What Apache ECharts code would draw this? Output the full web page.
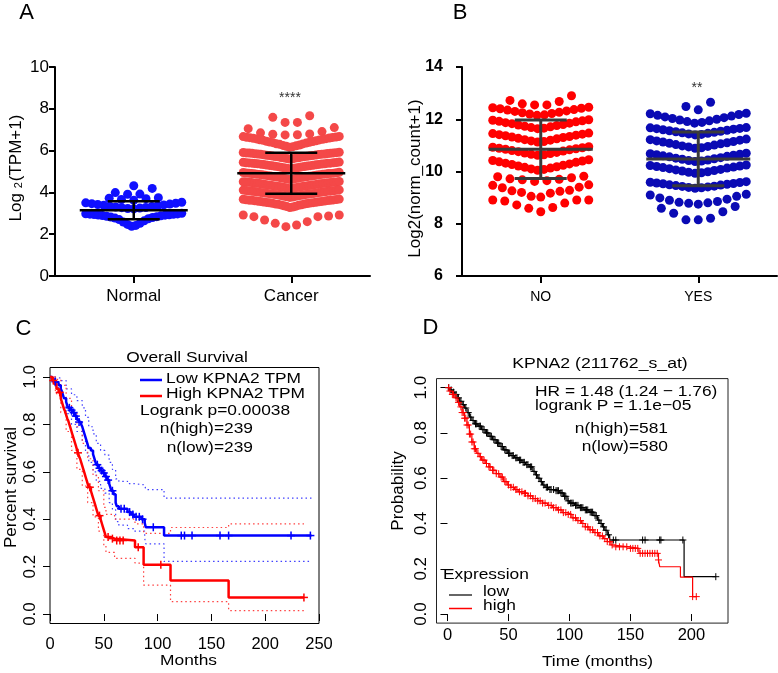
<!DOCTYPE html>
<html><head><meta charset="utf-8">
<script src="https://cdn.jsdelivr.net/npm/echarts@6/dist/echarts.min.js"></script>
<style>html,body{margin:0;padding:0;background:#fff}#c{width:778px;height:673px}</style>
</head><body><div id="c"></div>
<script>
// ---------- Panel A: Log2(TPM+1), rows of the dot plot ----------
const groupsA = ['Normal', 'Cancer'];
const normalRows = [
  [4.32],
  [3.91, 3.92, 3.99, 4.19],
  [3.62, 3.66, 3.70, 3.72, 3.75],
  [3.21, 3.23, 3.25, 3.27, 3.28, 3.30, 3.32, 3.34, 3.36, 3.38, 3.40, 3.42, 3.44, 3.46, 3.48, 3.50, 3.53],
  [2.38, 2.42, 2.47, 2.52, 2.58, 2.64, 2.70, 2.74, 2.77, 2.80, 2.82, 2.84, 2.86, 2.88, 2.89, 2.91, 2.92, 2.93, 2.94, 2.95, 2.96, 2.97, 2.98, 3.00]
];
const cancerRows = [
  [7.35, 7.35, 7.59, 7.67],
  [6.75, 6.76, 6.78, 6.80, 6.85, 6.91, 7.05, 7.10],
  [6.16, 6.19, 6.21, 6.23, 6.25, 6.27, 6.30, 6.32, 6.33, 6.36, 6.38, 6.40, 6.41, 6.43, 6.45, 6.47, 6.49, 6.51, 6.52, 6.54, 6.56, 6.57, 6.59, 6.60, 6.62, 6.63, 6.64, 6.65, 6.67, 6.68],
  [5.60, 5.61, 5.62, 5.64, 5.65, 5.66, 5.67, 5.69, 5.70, 5.71, 5.72, 5.73, 5.74, 5.75, 5.76, 5.77, 5.78, 5.79, 5.80, 5.81, 5.82, 5.83, 5.84, 5.84, 5.85, 5.86, 5.87, 5.87, 5.88, 5.89, 5.89, 5.90, 5.91, 5.92],
  [5.13, 5.14, 5.15, 5.17, 5.18, 5.19, 5.20, 5.22, 5.23, 5.24, 5.25, 5.26, 5.27, 5.28, 5.29, 5.30, 5.31, 5.32, 5.33, 5.34, 5.35, 5.36, 5.37, 5.37, 5.38, 5.39, 5.40, 5.40, 5.41, 5.42, 5.42, 5.43, 5.44, 5.45],
  [4.62, 4.63, 4.64, 4.66, 4.67, 4.68, 4.69, 4.71, 4.72, 4.73, 4.74, 4.75, 4.76, 4.77, 4.78, 4.79, 4.80, 4.81, 4.82, 4.83, 4.84, 4.85, 4.86, 4.87, 4.87, 4.88, 4.89, 4.90, 4.90, 4.91, 4.92, 4.92, 4.93, 4.94, 4.95, 4.96],
  [4.18, 4.19, 4.21, 4.22, 4.23, 4.25, 4.26, 4.27, 4.28, 4.29, 4.30, 4.31, 4.32, 4.33, 4.34, 4.35, 4.36, 4.37, 4.38, 4.39, 4.40, 4.41, 4.42, 4.43, 4.44, 4.44, 4.45, 4.46, 4.47, 4.47, 4.48, 4.49, 4.50, 4.50, 4.51, 4.52],
  [3.76, 3.78, 3.79, 3.81, 3.82, 3.84, 3.85, 3.86, 3.88, 3.89, 3.90, 3.91, 3.92, 3.93, 3.94, 3.95, 3.96, 3.97, 3.98, 3.99, 4.00, 4.01, 4.02, 4.03, 4.04, 4.05, 4.05, 4.06, 4.07, 4.08, 4.09, 4.10, 4.11, 4.12],
  [3.28, 3.30, 3.32, 3.34, 3.36, 3.38, 3.40, 3.41, 3.43, 3.44, 3.45, 3.47, 3.48, 3.49, 3.50, 3.51, 3.52, 3.53, 3.54, 3.55, 3.56, 3.57, 3.58, 3.59, 3.60, 3.61, 3.62, 3.62, 3.63, 3.64, 3.65, 3.66, 3.67, 3.68],
  [2.36, 2.44, 2.52, 2.60, 2.68, 2.84, 2.84, 2.87, 2.92, 2.92]
];
const meanA = [3.15, 4.92];
const sdA = [0.43, 0.98];

// ---------- Panel B: Log2(norm_count+1) ----------
const groupsB = ['NO', 'YES'];
const noRows = [
  [12.55, 12.55, 12.59, 12.68, 12.72, 12.90],
  [12.15, 12.17, 12.20, 12.22, 12.25, 12.27, 12.30, 12.32, 12.35, 12.37, 12.40, 12.42, 12.44, 12.46],
  [11.64, 11.66, 11.68, 11.71, 11.73, 11.76, 11.78, 11.80, 11.83, 11.85, 11.87, 11.90, 11.92, 11.94, 11.96, 11.98],
  [11.13, 11.15, 11.17, 11.20, 11.22, 11.25, 11.27, 11.30, 11.32, 11.34, 11.37, 11.39, 11.41, 11.43, 11.45, 11.47],
  [10.62, 10.64, 10.66, 10.69, 10.71, 10.73, 10.76, 10.78, 10.80, 10.83, 10.85, 10.87, 10.89, 10.91, 10.93, 10.95],
  [10.05, 10.08, 10.10, 10.13, 10.16, 10.18, 10.21, 10.24, 10.27, 10.29, 10.32, 10.35, 10.37, 10.40, 10.42, 10.45],
  [9.62, 9.65, 9.68, 9.70, 9.72, 9.76, 9.80, 9.82],
  [9.02, 9.05, 9.17, 9.20, 9.24, 9.26, 9.28, 9.38, 9.40, 9.47, 9.49],
  [8.46, 8.59, 8.62, 8.72, 8.79, 8.87, 8.91, 8.91, 8.91]
];
const yesRows = [
  [12.36, 12.49, 12.65],
  [11.85, 11.88, 11.91, 11.94, 11.97, 12.00, 12.03, 12.06, 12.09, 12.12, 12.15, 12.18, 12.21, 12.23],
  [11.40, 11.42, 11.44, 11.46, 11.48, 11.50, 11.52, 11.54, 11.56, 11.58, 11.60, 11.62, 11.64, 11.65, 11.67, 11.68],
  [10.89, 10.91, 10.94, 10.96, 10.98, 11.01, 11.03, 11.06, 11.08, 11.10, 11.13, 11.15, 11.17, 11.20, 11.22, 11.24],
  [10.38, 10.40, 10.42, 10.44, 10.47, 10.49, 10.51, 10.53, 10.56, 10.58, 10.60, 10.62, 10.64, 10.66, 10.68, 10.70],
  [9.93, 9.95, 9.97, 9.99, 10.02, 10.04, 10.06, 10.08, 10.11, 10.13, 10.15, 10.17, 10.19, 10.21, 10.23, 10.25],
  [9.36, 9.38, 9.39, 9.41, 9.43, 9.44, 9.46, 9.48, 9.49, 9.51, 9.53, 9.54, 9.56, 9.58, 9.59, 9.61],
  [8.75, 8.78, 8.80, 8.82, 8.85, 8.90, 8.94, 8.99, 9.05, 9.10, 9.13],
  [8.15, 8.15, 8.21, 8.40, 8.46, 8.59, 8.66]
];
const meanB = [10.85, 10.48];
const sdB = [1.12, 1.03];

// ---------- Panel C: Overall Survival (GEPIA) ----------
const cXTicks = [0, 50, 100, 150, 200, 250];
const survTicks = [0, 0.2, 0.4, 0.6, 0.8, 1.0];
const cLow = [[0,1],[2,.99],[4,.98],[6,.975],[8,.965],[10,.95],[11,.94],[12,.925],[13,.91],[15,.895],[16,.88],[17,.87],[19,.86],[21,.85],[23,.835],[25,.82],[27,.81],[29,.80],[30,.79],[31,.775],[32,.76],[33,.745],[34,.73],[35,.715],[36,.70],[38,.69],[40,.675],[41,.66],[42,.645],[43,.63],[45,.615],[47,.605],[49,.595],[51,.58],[53,.565],[55,.55],[56,.535],[57,.52],[59,.505],[61,.47],[62,.455],[64,.444],[72,.43],[75,.42],[78,.41],[85,.40],[88,.385],[89,.366],[106,.331]];
const cLowEnd = 243;
const cHigh = [[0,1],[2,.985],[4,.97],[6,.95],[8,.935],[10,.91],[11,.895],[12,.88],[13,.865],[14,.855],[15,.84],[16,.825],[17,.815],[18,.80],[19,.785],[20,.77],[21,.755],[22,.74],[23,.725],[24,.71],[25,.695],[26,.68],[27,.665],[28,.655],[29,.64],[30,.625],[31,.61],[32,.595],[33,.58],[34,.565],[35,.55],[36,.535],[38,.52],[39,.505],[40,.49],[41,.475],[42,.46],[43,.445],[44,.43],[45,.415],[47,.40],[48,.385],[49,.37],[50,.355],[51,.34],[52,.325],[56,.318],[60,.31],[79,.282],[87,.208],[112,.141],[166,.07]];
const cHighEnd = 236;
const cLowUp = [[0,1],[5,.995],[10,.985],[15,.95],[20,.925],[25,.90],[30,.87],[33,.83],[36,.79],[40,.76],[43,.72],[47,.69],[51,.67],[55,.64],[58,.61],[61,.57],[64,.56],[72,.55],[78,.545],[88,.54],[89,.525],[106,.489]];
const cLowLo = [[0,1],[5,.955],[10,.91],[15,.845],[20,.80],[25,.77],[30,.73],[33,.68],[36,.64],[40,.60],[43,.56],[47,.53],[51,.51],[55,.47],[58,.44],[61,.39],[64,.375],[72,.36],[78,.35],[88,.32],[89,.296],[106,.222]];
const cHighUp = [[0,1],[5,.99],[10,.965],[15,.91],[20,.85],[25,.79],[30,.72],[35,.655],[40,.585],[45,.52],[50,.45],[52,.42],[60,.40],[79,.38],[87,.34],[112,.365],[166,.38]];
const cHighLo = [[0,1],[5,.93],[10,.85],[15,.77],[20,.69],[25,.61],[30,.54],[35,.47],[40,.41],[45,.35],[50,.29],[52,.26],[60,.235],[79,.215],[87,.122],[112,.052],[166,.014]];
const cLowCens = [5, 18, 20, 22, 24, 27, 44, 46, 48, 50, 52, 54, 58, 66, 69, 74, 77, 80, 83, 86, 96, 122, 125, 132, 158, 166, 224, 242];
const cHighCens = [3, 9, 26, 37, 46, 54, 58, 62, 65, 68, 82, 103, 236];

// ---------- Panel D: KPNA2 (211762_s_at), KM plotter ----------
const dXTicks = [0, 50, 100, 150, 200];
const dLow = [[0,1],[2,.99],[4,.98],[6,.97],[8,.955],[10,.94],[12,.925],[14,.91],[16,.89],[18,.87],[20,.855],[22,.84],[25,.83],[28,.815],[31,.80],[34,.785],[37,.77],[40,.755],[43,.74],[46,.725],[49,.71],[52,.70],[55,.69],[58,.68],[61,.67],[64,.66],[67,.65],[70,.63],[72,.615],[74,.60],[76,.585],[78,.57],[80,.56],[83,.55],[88,.545],[92,.535],[95,.52],[98,.50],[100,.49],[104,.48],[108,.47],[112,.46],[116,.45],[120,.435],[123,.415],[125,.40],[127,.385],[129,.37],[131,.35],[133,.327],[194,.165]];
const dLowEnd = 220;
const dHigh = [[0,1],[2,.985],[4,.97],[6,.955],[8,.935],[10,.915],[12,.89],[14,.865],[16,.835],[18,.795],[20,.76],[22,.73],[24,.71],[26,.695],[28,.68],[31,.665],[34,.65],[37,.635],[40,.62],[43,.605],[46,.585],[49,.57],[52,.56],[55,.55],[58,.54],[62,.533],[66,.522],[70,.51],[74,.50],[78,.49],[82,.48],[86,.47],[90,.46],[94,.448],[98,.44],[102,.425],[106,.413],[110,.40],[113,.385],[116,.372],[120,.36],[124,.345],[128,.333],[131,.32],[134,.305],[136,.297],[149,.29],[157,.268],[173,.239],[174,.209],[191,.163],[201,.077]];
const dHighEnd = 204;
const dLowCens = [1,3,5,7,9,11,13,15,17,19,21,23,24,26,27,29,30,32,33,35,36,38,39,41,42,44,45,47,48,50,51,53,54,56,57,59,60,62,63,65,66,68,69,71,73,75,77,79,81,82,84,85,87,89,90,91,93,94,96,97,99,101,102,103,105,106,107,109,110,111,113,114,115,117,118,119,121,122,124,126,128,130,132,136,138,160,162,174,175,193,220];
const dHighCens = [1,2,4,5,7,9,11,12,13,14,15,16,17,18,19,20,21,22,23,25,27,29,30,32,34,35,37,38,40,42,44,45,47,48,50,52,54,56,57,59,61,63,64,66,68,70,72,74,76,78,80,83,85,87,89,91,93,95,97,99,101,103,105,107,109,111,113,115,117,119,121,123,125,127,129,131,133,135,138,141,144,147,150,152,154,156,158,160,162,164,166,168,170,172,173,201,204];

// ---------- layout helpers ----------
const FONT = '"Liberation Sans", Arial, sans-serif';
const gridAB_W = 315;
const pxPerUnit = gridAB_W / 2;   // x value axis spans 0..2
const HALF_W = 48, MAX_SP = 12.3;
const SX = 1.12;                 // horizontal stretch of the R panels' text

function swarm(rows, xc) {
  const out = [];
  rows.forEach(row => {
    const v = row.slice().sort((a, b) => a - b);
    const n = v.length;
    const sp = n > 1 ? Math.min(MAX_SP, 2 * HALF_W / (n - 1)) : 0;
    const slots = [];
    for (let i = 0; i < n; i++) slots.push((i - (n - 1) / 2) * sp);
    slots.sort((a, b) => (Math.abs(a) - Math.abs(b)) || (a - b));
    v.forEach((val, k) => out.push([xc + slots[k] / pxPerUnit, val]));
  });
  return out;
}
function stepAt(curve, t) {
  let s = curve[0][1];
  for (const p of curve) { if (p[0] <= t) s = p[1]; else break; }
  return s;
}
function stepLine(curve, end) { return curve.concat([[end, curve[curve.length - 1][1]]]); }

function errRender(halfMean, halfCap, color, lw) {
  return function (params, api) {
    const xc = api.value(0), m = api.value(1), sd = api.value(2);
    const pm = api.coord([xc, m]), ph = api.coord([xc, m + sd]), pl = api.coord([xc, m - sd]);
    const st = { stroke: color, lineWidth: lw };
    return { type: 'group', children: [
      { type: 'line', shape: { x1: pm[0] - halfMean, y1: pm[1], x2: pm[0] + halfMean, y2: pm[1] }, style: st },
      { type: 'line', shape: { x1: ph[0], y1: ph[1], x2: pl[0], y2: pl[1] }, style: st },
      { type: 'line', shape: { x1: ph[0] - halfCap, y1: ph[1], x2: ph[0] + halfCap, y2: ph[1] }, style: st },
      { type: 'line', shape: { x1: pl[0] - halfCap, y1: pl[1], x2: pl[0] + halfCap, y2: pl[1] }, style: st }
    ]};
  };
}
function plusRender(size, color, lw) {
  return function (params, api) {
    const p = api.coord([api.value(0), api.value(1)]);
    const st = { stroke: color, lineWidth: lw };
    return { type: 'group', children: [
      { type: 'line', shape: { x1: p[0] - size, y1: p[1], x2: p[0] + size, y2: p[1] }, style: st },
      { type: 'line', shape: { x1: p[0], y1: p[1] - size, x2: p[0], y2: p[1] + size }, style: st }
    ]};
  };
}
function txt(text, x, y, size, opts) {
  opts = opts || {};
  return {
    type: 'text', x: x, y: y, rotation: opts.rot || 0, scaleX: opts.sx || 1, z: 100,
    style: {
      text: text, fill: opts.color || '#000',
      font: (opts.bold ? 'bold ' : '') + size + 'px ' + FONT,
      fontSize: size, fontFamily: FONT, fontWeight: opts.bold ? 'bold' : 'normal',
      align: opts.align || 'center', textAlign: opts.align || 'center',
      verticalAlign: 'middle', textVerticalAlign: 'middle',
      rich: opts.rich
    }
  };
}

const catAxis = (grid, names, fs, margin) => ({
  gridIndex: grid, type: 'value', min: 0, max: 2,
  axisLine: { show: true, onZero: false, lineStyle: { color: '#000', width: 2 } },
  axisTick: { show: true, customValues: [0.5, 1.5], length: 7, lineStyle: { color: '#000', width: 2 } },
  axisLabel: { show: true, customValues: [0.5, 1.5], formatter: v => names[Math.round(v - 0.5)], fontSize: fs, fontFamily: FONT, color: '#000', margin: margin },
  splitLine: { show: false }
});
const valAxis = (grid, min, max, fs, margin, bold) => ({
  gridIndex: grid, type: 'value', min: min, max: max, interval: 2,
  axisLine: { show: true, onZero: false, lineStyle: { color: '#000', width: 2 } },
  axisTick: { show: true, length: 6, lineStyle: { color: '#000', width: 2 } },
  axisLabel: { fontSize: fs, fontFamily: FONT, color: '#000', margin: margin, fontWeight: bold ? 'bold' : 'normal' },
  splitLine: { show: false }
});
const kmX = (grid, min, max, ticks, margin) => ({
  gridIndex: grid, type: 'value', min: min, max: max,
  axisLine: { show: false },
  axisTick: { show: true, customValues: ticks, length: 7, lineStyle: { color: '#000', width: 1 } },
  axisLabel: { show: true, customValues: ticks, fontSize: 16.5, fontFamily: FONT, color: '#000', margin: margin },
  splitLine: { show: false }
});
const kmY = (grid, margin) => ({
  gridIndex: grid, type: 'value', min: -0.04, max: 1.04,
  axisLine: { show: false },
  axisTick: { show: true, customValues: survTicks, length: 7, lineStyle: { color: '#000', width: 1 } },
  axisLabel: { show: true, customValues: survTicks, rotate: 90, formatter: v => v.toFixed(1), fontSize: 17, fontFamily: FONT, color: '#000', margin: margin },
  splitLine: { show: false }
});

const lineS = (xi, data, color, width, type, z) => ({
  type: 'line', xAxisIndex: xi, yAxisIndex: xi, data: data, step: 'end', showSymbol: false, symbol: 'none',
  lineStyle: { color: color, width: width, type: type || 'solid' }, z: z || 3, silent: true, animation: false
});
const censS = (xi, curve, times, size, color, lw) => ({
  type: 'custom', xAxisIndex: xi, yAxisIndex: xi, renderItem: plusRender(size, color, lw),
  data: times.map(t => [t, stepAt(curve, t)]), z: 4, silent: true, animation: false
});

const chart = echarts.init(document.getElementById('c'), null, { renderer: 'canvas', width: 778, height: 673 });
const option = {
  animation: false,
  backgroundColor: '#fff',
  grid: [
    { left: 55, top: 67, width: gridAB_W, height: 209, containLabel: false, outerBoundsMode: 'none' },
    { left: 462, top: 67, width: gridAB_W, height: 209, containLabel: false, outerBoundsMode: 'none' },
    { left: 50, top: 367.5, width: 269, height: 256, show: true, borderColor: '#000', borderWidth: 1, backgroundColor: 'transparent', containLabel: false, outerBoundsMode: 'none' },
    { left: 436.5, top: 378.6, width: 291.5, height: 244.5, show: true, borderColor: '#222', borderWidth: 1, backgroundColor: 'transparent', containLabel: false, outerBoundsMode: 'none' }
  ],
  xAxis: [
    catAxis(0, groupsA, 17, 12),
    catAxis(1, groupsB, 14, 14),
    kmX(2, 0, 250, cXTicks, 12),
    kmX(3, -9, 230, dXTicks, 4)
  ],
  yAxis: [
    valAxis(0, 0, 10, 17, 6, false),
    valAxis(1, 6, 14, 16, 19, true),
    kmY(2, 11),
    kmY(3, 7)
  ],
  series: [
    { type: 'scatter', xAxisIndex: 0, yAxisIndex: 0, data: swarm(normalRows, 0.5), symbolSize: 9, itemStyle: { color: '#1010ff', opacity: 1 }, silent: true },
    { type: 'scatter', xAxisIndex: 0, yAxisIndex: 0, data: swarm(cancerRows, 1.5), symbolSize: 9, itemStyle: { color: '#f44848', opacity: 1 }, silent: true },
    { type: 'custom', xAxisIndex: 0, yAxisIndex: 0, renderItem: errRender(54, 26, '#000', 2.5), data: meanA.map((m, i) => [i + 0.5, m, sdA[i]]), z: 5, silent: true },
    { type: 'scatter', xAxisIndex: 1, yAxisIndex: 1, data: swarm(noRows, 0.5), symbolSize: 9, itemStyle: { color: '#ff0000', opacity: 1 }, silent: true },
    { type: 'scatter', xAxisIndex: 1, yAxisIndex: 1, data: swarm(yesRows, 1.5), symbolSize: 9, itemStyle: { color: '#0a0ab4', opacity: 1 }, silent: true },
    { type: 'custom', xAxisIndex: 1, yAxisIndex: 1, renderItem: errRender(52, 26, '#3a3a3a', 3), data: meanB.map((m, i) => [i + 0.5, m, sdB[i]]), z: 5, silent: true },
    lineS(2, stepLine(cLowUp, cLowEnd), '#4040ff', 1.2, [1.5, 3], 2),
    lineS(2, stepLine(cLowLo, cLowEnd), '#4040ff', 1.2, [1.5, 3], 2),
    lineS(2, stepLine(cHighUp, cHighEnd), '#ff4040', 1.2, [1.5, 3], 2),
    lineS(2, stepLine(cHighLo, cHighEnd), '#ff4040', 1.2, [1.5, 3], 2),
    lineS(2, stepLine(cLow, cLowEnd), '#0000ff', 2.5),
    lineS(2, stepLine(cHigh, cHighEnd), '#ff0000', 2.5),
    censS(2, cLow, cLowCens, 4, '#0000ff', 1.5),
    censS(2, cHigh, cHighCens, 4, '#ff0000', 1.5),
    lineS(3, stepLine(dLow, dLowEnd), '#000', 1.2),
    lineS(3, stepLine(dHigh, dHighEnd), '#ff0000', 1.2),
    censS(3, dLow, dLowCens, 3.5, '#000', 1),
    censS(3, dHigh, dHighCens, 3.5, '#ff0000', 1)
  ],
  graphic: [
    txt('A', 26.5, 12.5, 22),
    txt('B', 460, 12.5, 22),
    txt('C', 23.5, 328.5, 22),
    txt('D', 430.5, 328, 22),
    txt('Log {sub|2}(TPM+1)', 16, 168, 17, { rot: Math.PI / 2, rich: { sub: { fontSize: 11, fontFamily: FONT, verticalAlign: 'bottom', lineHeight: 12, padding: [0, 1, 0, 0] } } }),
    txt('****', 290, 98, 14, { color: '#333' }),
    txt('Log2(norm_count+1)', 415.5, 178.5, 17, { rot: Math.PI / 2 }),
    txt('**', 697, 88, 14, { color: '#333' }),
    txt('Overall Survival', 187, 357.5, 15.5, { sx: SX }),
    txt('Low KPNA2 TPM', 166, 378.3, 15.5, { align: 'left', sx: SX }),
    txt('High KPNA2 TPM', 166, 394.2, 15.5, { align: 'left', sx: SX }),
    txt('Logrank p=0.00038', 140, 410.5, 15.5, { align: 'left', sx: SX }),
    txt('n(high)=239', 253, 428.5, 15.5, { align: 'right', sx: SX }),
    txt('n(low)=239', 253, 447.3, 15.5, { align: 'right', sx: SX }),
    { type: 'line', shape: { x1: 140, y1: 380, x2: 162, y2: 380 }, style: { stroke: '#0000ff', lineWidth: 2.5 }, z: 100 },
    { type: 'line', shape: { x1: 140, y1: 396, x2: 162, y2: 396 }, style: { stroke: '#ff0000', lineWidth: 2.5 }, z: 100 },
    txt('Percent survival', 11, 487.5, 17, { rot: Math.PI / 2 }),
    txt('Months', 188.5, 661, 15.5, { sx: SX }),
    txt('KPNA2 (211762_s_at)', 600, 364, 15.5, { sx: 1.14 }),
    txt('HR = 1.48 (1.24 \u2212 1.76)', 535, 391.7, 15.5, { align: 'left', sx: SX }),
    txt('logrank P = 1.1e\u221205', 535, 406.2, 15.5, { align: 'left', sx: SX }),
    txt('n(high)=581', 668, 428.3, 15.5, { align: 'right', sx: SX }),
    txt('n(low)=580', 668, 446.8, 15.5, { align: 'right', sx: SX }),
    txt('Expression', 443, 575, 15.5, { align: 'left', sx: SX }),
    txt('low', 483, 591.5, 15.5, { align: 'left', sx: SX }),
    txt('high', 483, 606, 15.5, { align: 'left', sx: SX }),
    { type: 'line', shape: { x1: 449, y1: 595, x2: 472, y2: 595 }, style: { stroke: '#333', lineWidth: 1.5 }, z: 100 },
    { type: 'line', shape: { x1: 449, y1: 608.5, x2: 472, y2: 608.5 }, style: { stroke: '#ff0000', lineWidth: 1.5 }, z: 100 },
    txt('Probability', 398, 491, 17, { rot: Math.PI / 2 }),
    txt('Time (months)', 597.5, 661.5, 15.5, { sx: SX })
  ]
};
chart.setOption(option);
</script>
</body></html>
